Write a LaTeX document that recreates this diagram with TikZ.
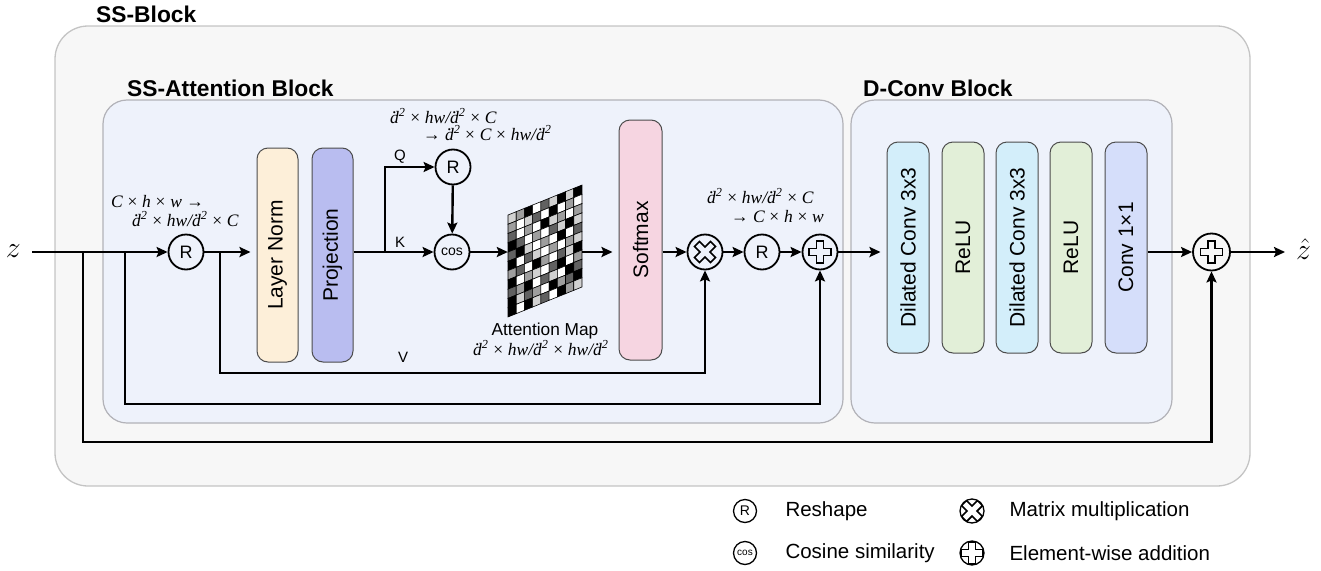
\documentclass[tikz,border=0pt]{standalone}
\usepackage{fontspec}
\setmainfont{Liberation Sans}
\newfontfamily\mserif{Liberation Serif}
\usetikzlibrary{arrows.meta}

\definecolor{ssfill}{HTML}{F7F7F7}
\definecolor{ssline}{HTML}{C4C4C4}
\definecolor{blkfill}{HTML}{EEF2FB}
\definecolor{blkline}{HTML}{B2B2B8}
\definecolor{lnfill}{HTML}{FDEFD9}
\definecolor{projfill}{HTML}{B9BDF0}
\definecolor{softfill}{HTML}{F6D5E1}
\definecolor{dcfill}{HTML}{D3EEFA}
\definecolor{relufill}{HTML}{E2EFD8}
\definecolor{convfill}{HTML}{D5DEFA}
\colorlet{shade0}{white}
\colorlet{shade1}{black!18}
\colorlet{shade2}{black!38}
\colorlet{shade3}{black!62}
\colorlet{shade4}{black}

\newcommand\fsz[1]{\fontsize{#1}{#1}\selectfont}
\newcommand\mtimes{\hspace{0.27em}{\upshape ×}\hspace{0.27em}}
\newcommand\dsq{\makebox[0pt][l]{\hspace{0.14em}\raisebox{0.56em}{.}}d\textsuperscript{2}}
\newcommand\fml[1]{{\fsz{17.5}\mserif\itshape #1}}
\newcommand\rarr{{\upshape →}}

\begin{document}
\begin{tikzpicture}[x=1pt,y=-1pt,
  conn/.style={line width=2.4pt},
  arr/.style={conn, -{Stealth[length=11pt,width=10pt,inset=2pt]}},
  gap/.style={shorten >=6pt},
  vbox/.style={draw=black!70, line width=1pt, rounded corners=11pt, rotate=90,
    inner sep=0pt, font=\fsz{21}},
  opc/.style={circle, draw, line width=1.8pt, minimum size=35pt, inner sep=0pt, font=\fsz{18}},
  legc/.style={circle, draw, line width=1.3pt, minimum size=22pt, inner sep=0pt, font=\fsz{14}},
  plussym/.style={path picture={\draw[line width=1.6pt, shift={(path picture bounding box.center)}, scale=#1]
    (-3.6,11)--(3.6,11)--(3.6,3.6)--(11,3.6)--(11,-3.6)--(3.6,-3.6)--(3.6,-11)--(-3.6,-11)
    --(-3.6,-3.6)--(-11,-3.6)--(-11,3.6)--(-3.6,3.6)--cycle;}},
  timessym/.style={path picture={\draw[line width=1.6pt, shift={(path picture bounding box.center)}, scale=#1]
    (-10.6,5.5)--(-5.5,10.6)--(0,5.1)--(5.5,10.6)--(10.6,5.5)--(5.1,0)--(10.6,-5.5)--(5.5,-10.6)
    --(0,-5.1)--(-5.5,-10.6)--(-10.6,-5.5)--(-5.1,0)--cycle;}},
  title/.style={anchor=base west, inner sep=0pt, font=\fsz{22.8}\bfseries},
  small/.style={font=\fsz{15}},
  ftxt/.style={anchor=base west, inner sep=0pt},
  legt/.style={anchor=west, font=\fsz{20.5}}
]
\useasboundingbox (0,0) rectangle (1321,570);

% block containers
\draw[fill=ssfill, draw=ssline, line width=1.3pt, rounded corners=33pt] (55,26) rectangle (1250,486);
\draw[fill=blkfill, draw=blkline, line width=1.2pt, rounded corners=24pt] (103,100) rectangle (843,423);
\draw[fill=blkfill, draw=blkline, line width=1.2pt, rounded corners=24pt] (851,100) rectangle (1172,423);
\node[title] (tss) at (96,22) {SS-Block};
\node[title] (tatt) at (127,96) {SS-Attention Block};
\node[title] (tdc) at (863,96) {D-Conv Block};

% layers
\node[vbox, fill=lnfill, minimum width=214pt, minimum height=41pt] (ln) at (277.5,255) {Layer Norm};
\node[vbox, fill=projfill, minimum width=214pt, minimum height=41pt] (proj) at (332.5,255) {Projection};
\node[vbox, fill=softfill, minimum width=240pt, minimum height=43pt] (soft) at (640.5,240) {Softmax};
\node[vbox, fill=dcfill, minimum width=211pt, minimum height=42pt] (dc1) at (908,247.5) {Dilated Conv 3x3};
\node[vbox, fill=relufill, minimum width=211pt, minimum height=42pt] (re1) at (963,247.5) {ReLU};
\node[vbox, fill=dcfill, minimum width=211pt, minimum height=42pt] (dc2) at (1017,247.5) {Dilated Conv 3x3};
\node[vbox, fill=relufill, minimum width=211pt, minimum height=42pt] (re2) at (1071,247.5) {ReLU};
\node[vbox, fill=convfill, minimum width=211pt, minimum height=42pt] (c11) at (1126,247.5) {Conv 1×1};

% operators
\node[opc] (r1) at (186,252) {R};
\node[opc] (rq) at (453,167) {R};
\node[opc, font=\fsz{14}] (cos) at (452,252) {cos};
\node[opc, timessym=1] (mm) at (705,252) {};
\node[opc] (r3) at (762,252) {R};
\node[opc, plussym=1] (add1) at (820,252) {};
\node[opc, plussym=1, minimum size=37pt] (add2) at (1211.5,252) {};

% input and output
\node[anchor=east, inner xsep=11pt, font=\fsz{25}] (z) at (32,251) {\scalebox{1.2}{$z$}};
\node[anchor=west, inner xsep=11pt, font=\fsz{25}] (zhat) at (1285,249) {\scalebox{1.2}{$\hat{z}$}};

% attention map
\node[inner sep=0pt, minimum width=74pt, minimum height=100pt] (amap) at (545,251) {};
\begin{scope}[line width=0.6pt]
\foreach \row [count=\j from 0] in {
  {1,2,4,0,3,1,4,1,4},
  {2,0,1,3,0,4,0,2,0},
  {3,0,2,0,4,1,2,0,2},
  {4,3,0,2,0,3,1,4,1},
  {3,4,1,0,2,0,4,0,3},
  {4,0,3,1,0,2,0,2,1},
  {2,3,0,4,2,0,3,1,4},
  {4,0,2,1,0,3,4,0,2},
  {3,2,4,0,3,1,0,4,3},
  {4,1,3,2,0,4,2,3,4},
  {4,0,4,1,3,0,4,2,1}}{
  \foreach \v [count=\i from 0] in \row {
    \pgfmathsetmacro\xa{508+\i*8.22}
    \pgfmathsetmacro\ya{215+\j*9.27-\i*3.33}
    \draw[fill=shade\v] (\xa,\ya) -- ++(8.22,-3.33) -- ++(0,9.27) -- ++(-8.22,3.33) -- cycle;
  }
}
\end{scope}
\node[anchor=base, inner sep=0pt, font=\fsz{17.3}] (amlab) at (545,335) {Attention Map};
\node[ftxt] (amdim) at (473,355) {\fml{\dsq\mtimes hw/\dsq\mtimes hw/\dsq}};

% shape annotations
\node[ftxt] (fa1) at (111,207) {\fml{C\mtimes h\mtimes w \rarr}};
\node[ftxt] (fa2) at (132,226) {\fml{\dsq\mtimes hw/\dsq\mtimes C}};
\node[ftxt] (fb1) at (390,123) {\fml{\dsq\mtimes hw/\dsq\mtimes C}};
\node[ftxt] (fb2) at (423,140) {\fml{\rarr\ \dsq\mtimes C\mtimes hw/\dsq}};
\node[ftxt] (fc1) at (707,203) {\fml{\dsq\mtimes hw/\dsq\mtimes C}};
\node[ftxt] (fc2) at (731,222) {\fml{\rarr\ C\mtimes h\mtimes w}};

\node[small] (lq) at (400,157) {Q};
\node[small] (lk) at (400,242) {K};
\node[small] (lv) at (403,357) {V};

% branch points
\coordinate (b1) at (83,252);  \coordinate (b1d) at (83,442);
\coordinate (b2) at (125,252); \coordinate (b2d) at (125,404);
\coordinate (b3) at (220,252); \coordinate (b3d) at (220,373);
\coordinate (j) at (385,252);

% main flow
\draw[arr] (z.east |- r1) -- (r1);
\draw[arr, gap] (r1) -- (ln.north |- r1);
\draw[arr] (proj.south |- r1) -- (cos);
\draw[arr] (j) |- (rq);
\draw[arr] (rq) -- (cos);
\draw[arr] (cos) -- (cos -| amap.west);
\draw[arr, gap] (amap.east |- cos) -- (soft.north |- cos);
\draw[arr] (soft.south |- mm) -- (mm);
\draw[arr] (mm) -- (r3);
\draw[arr] (r3) -- (add1);
\draw[arr, gap] (add1) -- (dc1.north |- add1);
\draw[arr] (c11.south |- add2) -- (add2);
\draw[arr] (add2) -- (add2 -| zhat.west);

% skip connections
\draw[arr] (b3) -- (b3d) -| (mm);
\draw[arr] (b2) -- (b2d) -| (add1);
\draw[arr] (b1) -- (b1d) -| (add2);

% legend
\node[legc, minimum size=23pt] (lgr) at (745,511) {R};
\node[legc, minimum size=23pt, font=\fsz{10}] (lgc) at (745,553) {cos};
\node[legc, minimum size=24pt, timessym=0.78] (lgm) at (972,511) {};
\node[legc, minimum size=24pt, plussym=0.78] (lga) at (972,553) {};
\node[legt] (tgr) at (782,511) {Reshape};
\node[legt] (tgc) at (782,553) {Cosine similarity};
\node[legt] (tgm) at (1006,511) {Matrix multiplication};
\node[legt] (tga) at (1006,553) {Element-wise addition};
\end{tikzpicture}
\end{document}
